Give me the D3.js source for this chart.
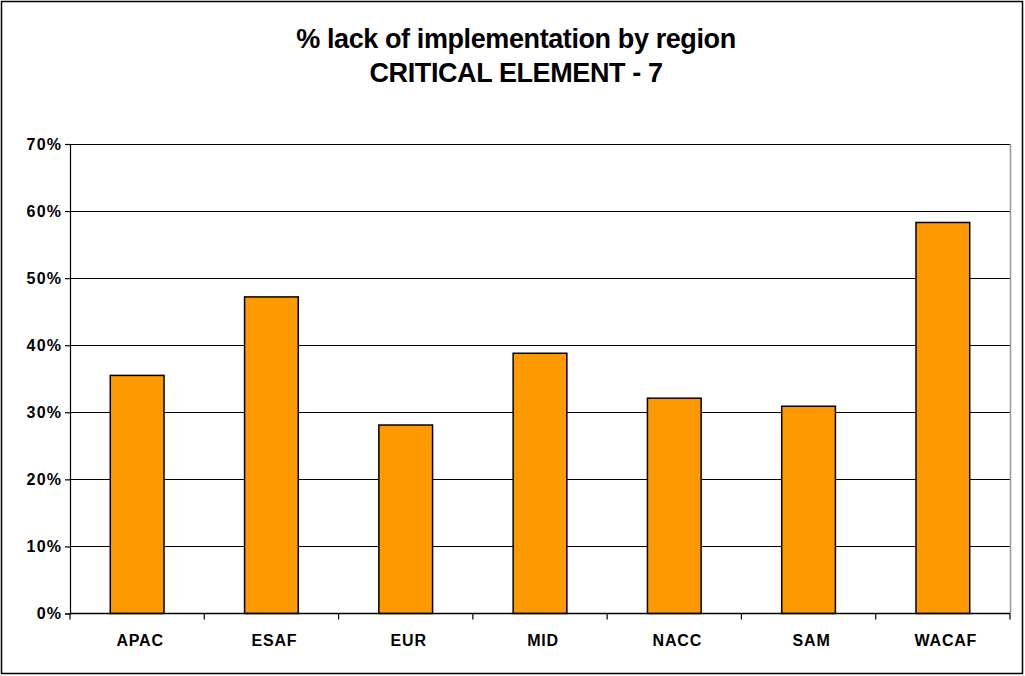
<!DOCTYPE html>
<html><head><meta charset="utf-8">
<script src="https://cdn.jsdelivr.net/npm/d3@7"></script>
<style>
body{margin:0;background:#fff;}
text{font-family:"Liberation Sans",Arial,sans-serif;font-weight:bold;fill:#000;}
</style></head>
<body><svg id="c" width="1025" height="676"></svg>
<script>
const categories = ["APAC","ESAF","EUR","MID","NACC","SAM","WACAF"];
const values = [0.355, 0.472, 0.281, 0.388, 0.321, 0.309, 0.583];
const yTicks = [0,0.1,0.2,0.3,0.4,0.5,0.6,0.7];
const titleLines = ["% lack of implementation by region","CRITICAL ELEMENT - 7"];

const svg = d3.select("#c");
svg.append("rect").attr("x",1.5).attr("y",1.5).attr("width",1021).attr("height",672)
  .attr("fill","#fff").attr("stroke","#000").attr("stroke-width",1.5);

const L=70,R=1010,T=144,B=613.5;
const x = d3.scaleBand().domain(categories).range([L,R]).paddingInner(0.6).paddingOuter(0.3);
const y = d3.scaleLinear().domain([0,0.7]).range([B,T]);

const g = svg.append("g");
g.selectAll(".grid").data(yTicks.slice(1)).join("line")
  .attr("x1",L).attr("x2",R).attr("y1",d=>Math.round(y(d))+0.5).attr("y2",d=>Math.round(y(d))+0.5)
  .attr("stroke","#000").attr("stroke-width",1);
g.append("line").attr("x1",R+0.5).attr("x2",R+0.5).attr("y1",T).attr("y2",B)
  .attr("stroke","#999").attr("stroke-width",1.5);

g.selectAll(".bar").data(values).join("rect")
  .attr("x",(d,i)=>x(categories[i]))
  .attr("width",x.bandwidth())
  .attr("y",d=>y(d))
  .attr("height",d=>B-y(d))
  .attr("fill","#FF9900").attr("stroke","#000").attr("stroke-width",1.5);

const yAxis = d3.axisLeft(y).tickValues(yTicks).tickFormat(d3.format(".0%")).tickSize(5).tickPadding(4);
const ya = svg.append("g").attr("transform",`translate(${L},0)`).call(yAxis);
ya.selectAll("text").style("font-size","16px").style("letter-spacing","1.2px").attr("dx","1.2px");
ya.selectAll("line,path").attr("stroke","#000").attr("stroke-width",1.2);

const xb = d3.scaleLinear().domain([0,categories.length]).range([L,R]);
const xa = svg.append("g").attr("transform",`translate(0,${B})`);
xa.append("line").attr("x1",L).attr("x2",R).attr("stroke","#000").attr("stroke-width",1.5);
xa.selectAll(".tk").data(d3.range(categories.length+1)).join("line")
  .attr("x1",d=>xb(d)).attr("x2",d=>xb(d)).attr("y1",0).attr("y2",6).attr("stroke","#000").attr("stroke-width",1.2);
xa.selectAll(".lb").data(categories).join("text")
  .attr("x",d=>x(d)+x.bandwidth()/2+3).attr("y",32).attr("text-anchor","middle")
  .style("font-size","16px").style("letter-spacing","0.8px").text(d=>d);

svg.selectAll(".title").data(titleLines).join("text")
  .attr("x",516).attr("y",(d,i)=>47.5+i*34).attr("text-anchor","middle")
  .style("font-size","27px").style("letter-spacing","-0.4px").text(d=>d);
</script></body></html>
